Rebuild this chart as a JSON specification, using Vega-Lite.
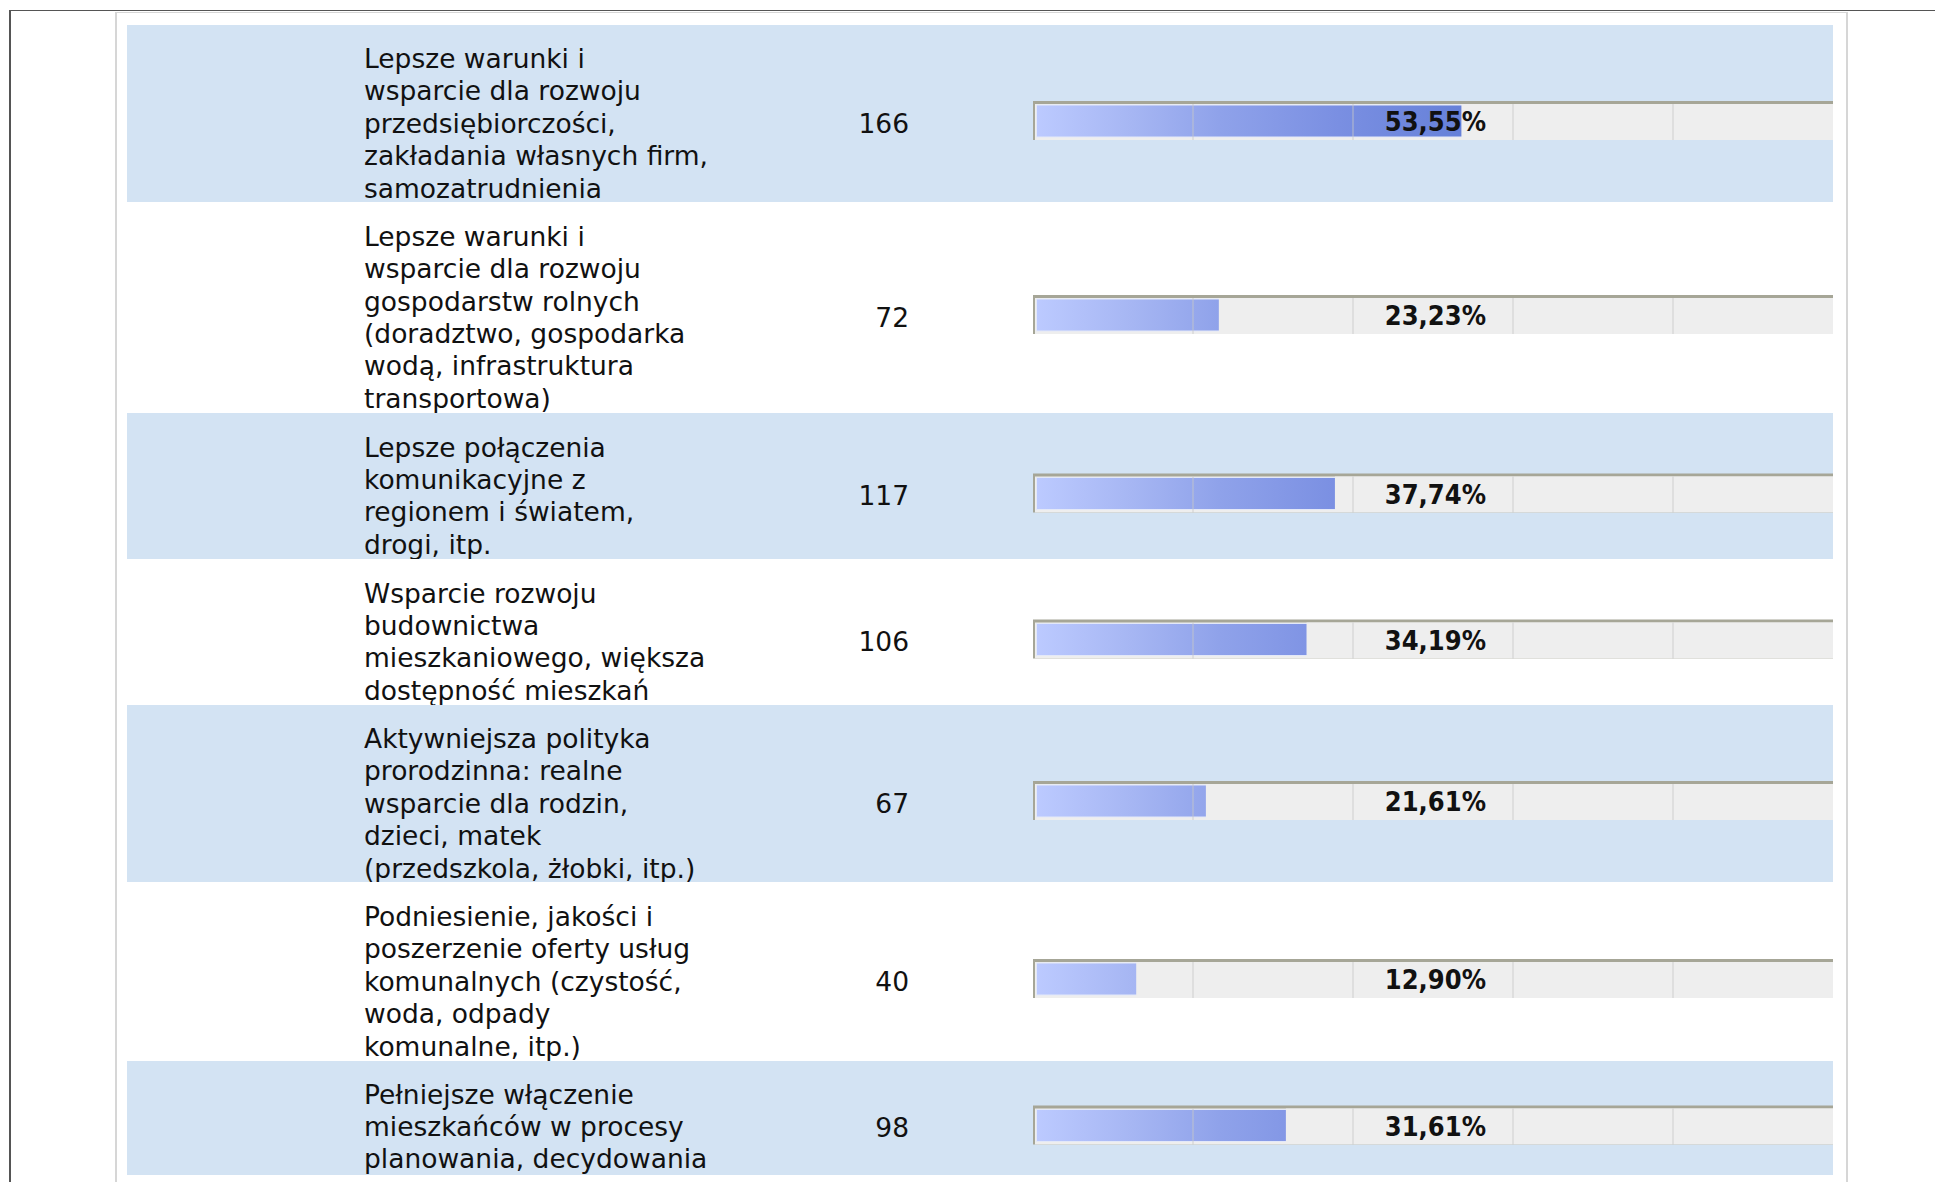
{
"$schema": "https://vega.github.io/schema/vega-lite/v6.json",
"padding": {"left": 9, "top": 10, "right": 0, "bottom": 0},
"background": "#ffffff",
"datasets": {"rows": [
 {"id":1,"label":["Lepsze warunki i","wsparcie dla rozwoju","przedsiębiorczości,","zakładania własnych firm,","samozatrudnienia"],"count":166,"pct":53.55,"pctLabel":"53,55%"},
 {"id":2,"label":["Lepsze warunki i","wsparcie dla rozwoju","gospodarstw rolnych","(doradztwo, gospodarka","wodą, infrastruktura","transportowa)"],"count":72,"pct":23.23,"pctLabel":"23,23%"},
 {"id":3,"label":["Lepsze połączenia","komunikacyjne z","regionem i światem,","drogi, itp."],"count":117,"pct":37.74,"pctLabel":"37,74%"},
 {"id":4,"label":["Wsparcie rozwoju","budownictwa","mieszkaniowego, większa","dostępność mieszkań"],"count":106,"pct":34.19,"pctLabel":"34,19%"},
 {"id":5,"label":["Aktywniejsza polityka","prorodzinna: realne","wsparcie dla rodzin,","dzieci, matek","(przedszkola, żłobki, itp.)"],"count":67,"pct":21.61,"pctLabel":"21,61%"},
 {"id":6,"label":["Podniesienie, jakości i","poszerzenie oferty usług","komunalnych (czystość,","woda, odpady","komunalne, itp.)"],"count":40,"pct":12.90,"pctLabel":"12,90%"},
 {"id":7,"label":["Pełniejsze włączenie","mieszkańców w procesy","planowania, decydowania"],"count":98,"pct":31.61,"pctLabel":"31,61%"}
]},
"data": {"name": "rows"},
"config": {"view": {"stroke": null}, "concat": {"spacing": 0}, "text": {"font": "DejaVu Sans", "fontSize": 26.5, "color": "#111111"}},
"spacing": 0,
"vconcat": [
 {"width":1926,"height":1,"view":{"fill":"#555555"},"transform":[{"filter":"false"}],"mark":"text","encoding":{}},
 {"spacing":0,"hconcat":[
  {"width":2,"height":1171,"view":{"fill":"#555555"},"transform":[{"filter":"false"}],"mark":"text","encoding":{}},
  {"width":104,"height":1,"transform":[{"filter":"false"}],"mark":"text","encoding":{}},
  {"spacing":0,"vconcat":[
   {"width":1733,"height":1,"transform":[{"filter":"false"}],"mark":"text","encoding":{}},
   {"width":1733,"height":1,"view":{"fill":"#d6d6d6"},"transform":[{"filter":"false"}],"mark":"text","encoding":{}},
   {"spacing":0,"hconcat":[
    {"width":2,"height":1169,"view":{"fill":"#d6d6d6"},"transform":[{"filter":"false"}],"mark":"text","encoding":{}},
    {"width":10,"height":1,"transform":[{"filter":"false"}],"mark":"text","encoding":{}},
    {"spacing":0,"vconcat":[
     {"width":1706,"height":12,"transform":[{"filter":"false"}],"mark":"text","encoding":{}},
     {"spacing":0,"hconcat":[
      {"width":237,"height":177,"view":{"fill":"#d3e3f3"},"transform":[{"filter":"false"}],"mark":"text","encoding":{}},
      {"width":380,"height":177,"view":{"fill":"#d3e3f3"},"transform":[{"filter":"datum.id==1"}],"mark":{"type":"text","align":"left","baseline":"middle","x":0,"dy":-53.5,"lineHeight":32.4,"clip":true},"encoding":{"text":{"field":"label","type":"nominal"}}},
      {"width":165,"height":177,"view":{"fill":"#d3e3f3"},"transform":[{"filter":"datum.id==1"}],"mark":{"type":"text","align":"right","baseline":"middle","x":"width","dy":11,"clip":true},"encoding":{"text":{"field":"count","type":"nominal"}}},
      {"width":124,"height":177,"view":{"fill":"#d3e3f3"},"transform":[{"filter":"false"}],"mark":"text","encoding":{}},
      {"width":800,"height":177,"view":{"fill":"#d3e3f3"},"layer":[
       {"transform":[{"filter":"datum.id==1"}],"mark":{"type":"bar","height":39,"yOffset":7,"color":"#a6a697"},"encoding":{"x":{"datum":0,"type":"quantitative","scale":{"domain":[0,100],"nice":false,"zero":false},"axis":null},"x2":{"datum":100}}},
       {"transform":[{"filter":"datum.id==1"}],"mark":{"type":"bar","height":36,"yOffset":8.5,"xOffset":2,"clip":true,"color":"#eeeeee"},"encoding":{"x":{"datum":0,"type":"quantitative"},"x2":{"datum":100}}},
       {"transform":[{"filter":"datum.id==1"}],"mark":{"type":"bar","height":32,"yOffset":7.5,"xOffset":3.5,"clip":true,"stroke":"#e3e8f8","strokeWidth":1,"color":{"gradient":"linear","x1":0,"y1":0,"x2":1,"y2":0,"stops":[{"offset":0,"color":"#bccaff"},{"offset":0.12,"color":"#a6b6f3"},{"offset":0.23,"color":"#8fa2ea"},{"offset":0.38,"color":"#7a8fe2"},{"offset":0.54,"color":"#6580d8"},{"offset":1,"color":"#2a48b0"}]}},"encoding":{"x":{"datum":0,"type":"quantitative"},"x2":{"datum":100}}},
       {"transform":[{"filter":"datum.id==1"}],"mark":{"type":"bar","height":34,"yOffset":7.5,"color":"#eeeeee"},"encoding":{"x":{"field":"pct","type":"quantitative"},"x2":{"datum":100}}},
       {"data":{"values":[{"g":20},{"g":40},{"g":60},{"g":80}]},"mark":{"type":"tick","orient":"vertical","size":36,"thickness":1.5,"yOffset":8.5,"color":"#c8c8c8","opacity":0.55},"encoding":{"x":{"field":"g","type":"quantitative"}}},
       {"transform":[{"filter":"datum.id==1"}],"mark":{"type":"text","align":"center","baseline":"middle","dy":9.5,"font":"DejaVu Sans Condensed, Roboto Condensed, Liberation Sans Narrow, sans-serif","fontWeight":"bold","fontSize":27,"color":"#111111","clip":true},"encoding":{"x":{"datum":50.3,"type":"quantitative"},"text":{"field":"pctLabel","type":"nominal"}}}
      ]}
     ]},
     {"spacing":0,"hconcat":[
      {"width":237,"height":211,"view":{"fill":"#ffffff"},"transform":[{"filter":"false"}],"mark":"text","encoding":{}},
      {"width":380,"height":211,"view":{"fill":"#ffffff"},"transform":[{"filter":"datum.id==2"}],"mark":{"type":"text","align":"left","baseline":"middle","x":0,"dy":-69.7,"lineHeight":32.4,"clip":true},"encoding":{"text":{"field":"label","type":"nominal"}}},
      {"width":165,"height":211,"view":{"fill":"#ffffff"},"transform":[{"filter":"datum.id==2"}],"mark":{"type":"text","align":"right","baseline":"middle","x":"width","dy":11,"clip":true},"encoding":{"text":{"field":"count","type":"nominal"}}},
      {"width":124,"height":211,"view":{"fill":"#ffffff"},"transform":[{"filter":"false"}],"mark":"text","encoding":{}},
      {"width":800,"height":211,"view":{"fill":"#ffffff"},"layer":[
       {"transform":[{"filter":"datum.id==2"}],"mark":{"type":"bar","height":39,"yOffset":7,"color":"#a6a697"},"encoding":{"x":{"datum":0,"type":"quantitative","scale":{"domain":[0,100],"nice":false,"zero":false},"axis":null},"x2":{"datum":100}}},
       {"transform":[{"filter":"datum.id==2"}],"mark":{"type":"bar","height":36,"yOffset":8.5,"xOffset":2,"clip":true,"color":"#eeeeee"},"encoding":{"x":{"datum":0,"type":"quantitative"},"x2":{"datum":100}}},
       {"transform":[{"filter":"datum.id==2"}],"mark":{"type":"bar","height":32,"yOffset":7.5,"xOffset":3.5,"clip":true,"stroke":"#e3e8f8","strokeWidth":1,"color":{"gradient":"linear","x1":0,"y1":0,"x2":1,"y2":0,"stops":[{"offset":0,"color":"#bccaff"},{"offset":0.12,"color":"#a6b6f3"},{"offset":0.23,"color":"#8fa2ea"},{"offset":0.38,"color":"#7a8fe2"},{"offset":0.54,"color":"#6580d8"},{"offset":1,"color":"#2a48b0"}]}},"encoding":{"x":{"datum":0,"type":"quantitative"},"x2":{"datum":100}}},
       {"transform":[{"filter":"datum.id==2"}],"mark":{"type":"bar","height":34,"yOffset":7.5,"color":"#eeeeee"},"encoding":{"x":{"field":"pct","type":"quantitative"},"x2":{"datum":100}}},
       {"data":{"values":[{"g":20},{"g":40},{"g":60},{"g":80}]},"mark":{"type":"tick","orient":"vertical","size":36,"thickness":1.5,"yOffset":8.5,"color":"#c8c8c8","opacity":0.55},"encoding":{"x":{"field":"g","type":"quantitative"}}},
       {"transform":[{"filter":"datum.id==2"}],"mark":{"type":"text","align":"center","baseline":"middle","dy":9.5,"font":"DejaVu Sans Condensed, Roboto Condensed, Liberation Sans Narrow, sans-serif","fontWeight":"bold","fontSize":27,"color":"#111111","clip":true},"encoding":{"x":{"datum":50.3,"type":"quantitative"},"text":{"field":"pctLabel","type":"nominal"}}}
      ]}
     ]},
     {"spacing":0,"hconcat":[
      {"width":237,"height":146,"view":{"fill":"#d3e3f3"},"transform":[{"filter":"false"}],"mark":"text","encoding":{}},
      {"width":380,"height":146,"view":{"fill":"#d3e3f3"},"transform":[{"filter":"datum.id==3"}],"mark":{"type":"text","align":"left","baseline":"middle","x":0,"dy":-37.3,"lineHeight":32.4,"clip":true},"encoding":{"text":{"field":"label","type":"nominal"}}},
      {"width":165,"height":146,"view":{"fill":"#d3e3f3"},"transform":[{"filter":"datum.id==3"}],"mark":{"type":"text","align":"right","baseline":"middle","x":"width","dy":11,"clip":true},"encoding":{"text":{"field":"count","type":"nominal"}}},
      {"width":124,"height":146,"view":{"fill":"#d3e3f3"},"transform":[{"filter":"false"}],"mark":"text","encoding":{}},
      {"width":800,"height":146,"view":{"fill":"#d3e3f3"},"layer":[
       {"transform":[{"filter":"datum.id==3"}],"mark":{"type":"bar","height":39,"yOffset":7,"color":"#a6a697"},"encoding":{"x":{"datum":0,"type":"quantitative","scale":{"domain":[0,100],"nice":false,"zero":false},"axis":null},"x2":{"datum":100}}},
       {"transform":[{"filter":"datum.id==3"}],"mark":{"type":"bar","height":36,"yOffset":8.5,"xOffset":2,"clip":true,"color":"#eeeeee"},"encoding":{"x":{"datum":0,"type":"quantitative"},"x2":{"datum":100}}},
       {"transform":[{"filter":"datum.id==3"}],"mark":{"type":"bar","height":32,"yOffset":7.5,"xOffset":3.5,"clip":true,"stroke":"#e3e8f8","strokeWidth":1,"color":{"gradient":"linear","x1":0,"y1":0,"x2":1,"y2":0,"stops":[{"offset":0,"color":"#bccaff"},{"offset":0.12,"color":"#a6b6f3"},{"offset":0.23,"color":"#8fa2ea"},{"offset":0.38,"color":"#7a8fe2"},{"offset":0.54,"color":"#6580d8"},{"offset":1,"color":"#2a48b0"}]}},"encoding":{"x":{"datum":0,"type":"quantitative"},"x2":{"datum":100}}},
       {"transform":[{"filter":"datum.id==3"}],"mark":{"type":"bar","height":34,"yOffset":7.5,"color":"#eeeeee"},"encoding":{"x":{"field":"pct","type":"quantitative"},"x2":{"datum":100}}},
       {"data":{"values":[{"g":20},{"g":40},{"g":60},{"g":80}]},"mark":{"type":"tick","orient":"vertical","size":36,"thickness":1.5,"yOffset":8.5,"color":"#c8c8c8","opacity":0.55},"encoding":{"x":{"field":"g","type":"quantitative"}}},
       {"transform":[{"filter":"datum.id==3"}],"mark":{"type":"text","align":"center","baseline":"middle","dy":9.5,"font":"DejaVu Sans Condensed, Roboto Condensed, Liberation Sans Narrow, sans-serif","fontWeight":"bold","fontSize":27,"color":"#111111","clip":true},"encoding":{"x":{"datum":50.3,"type":"quantitative"},"text":{"field":"pctLabel","type":"nominal"}}}
      ]}
     ]},
     {"spacing":0,"hconcat":[
      {"width":237,"height":146,"view":{"fill":"#ffffff"},"transform":[{"filter":"false"}],"mark":"text","encoding":{}},
      {"width":380,"height":146,"view":{"fill":"#ffffff"},"transform":[{"filter":"datum.id==4"}],"mark":{"type":"text","align":"left","baseline":"middle","x":0,"dy":-37.3,"lineHeight":32.4,"clip":true},"encoding":{"text":{"field":"label","type":"nominal"}}},
      {"width":165,"height":146,"view":{"fill":"#ffffff"},"transform":[{"filter":"datum.id==4"}],"mark":{"type":"text","align":"right","baseline":"middle","x":"width","dy":11,"clip":true},"encoding":{"text":{"field":"count","type":"nominal"}}},
      {"width":124,"height":146,"view":{"fill":"#ffffff"},"transform":[{"filter":"false"}],"mark":"text","encoding":{}},
      {"width":800,"height":146,"view":{"fill":"#ffffff"},"layer":[
       {"transform":[{"filter":"datum.id==4"}],"mark":{"type":"bar","height":39,"yOffset":7,"color":"#a6a697"},"encoding":{"x":{"datum":0,"type":"quantitative","scale":{"domain":[0,100],"nice":false,"zero":false},"axis":null},"x2":{"datum":100}}},
       {"transform":[{"filter":"datum.id==4"}],"mark":{"type":"bar","height":36,"yOffset":8.5,"xOffset":2,"clip":true,"color":"#eeeeee"},"encoding":{"x":{"datum":0,"type":"quantitative"},"x2":{"datum":100}}},
       {"transform":[{"filter":"datum.id==4"}],"mark":{"type":"bar","height":32,"yOffset":7.5,"xOffset":3.5,"clip":true,"stroke":"#e3e8f8","strokeWidth":1,"color":{"gradient":"linear","x1":0,"y1":0,"x2":1,"y2":0,"stops":[{"offset":0,"color":"#bccaff"},{"offset":0.12,"color":"#a6b6f3"},{"offset":0.23,"color":"#8fa2ea"},{"offset":0.38,"color":"#7a8fe2"},{"offset":0.54,"color":"#6580d8"},{"offset":1,"color":"#2a48b0"}]}},"encoding":{"x":{"datum":0,"type":"quantitative"},"x2":{"datum":100}}},
       {"transform":[{"filter":"datum.id==4"}],"mark":{"type":"bar","height":34,"yOffset":7.5,"color":"#eeeeee"},"encoding":{"x":{"field":"pct","type":"quantitative"},"x2":{"datum":100}}},
       {"data":{"values":[{"g":20},{"g":40},{"g":60},{"g":80}]},"mark":{"type":"tick","orient":"vertical","size":36,"thickness":1.5,"yOffset":8.5,"color":"#c8c8c8","opacity":0.55},"encoding":{"x":{"field":"g","type":"quantitative"}}},
       {"transform":[{"filter":"datum.id==4"}],"mark":{"type":"text","align":"center","baseline":"middle","dy":9.5,"font":"DejaVu Sans Condensed, Roboto Condensed, Liberation Sans Narrow, sans-serif","fontWeight":"bold","fontSize":27,"color":"#111111","clip":true},"encoding":{"x":{"datum":50.3,"type":"quantitative"},"text":{"field":"pctLabel","type":"nominal"}}}
      ]}
     ]},
     {"spacing":0,"hconcat":[
      {"width":237,"height":177,"view":{"fill":"#d3e3f3"},"transform":[{"filter":"false"}],"mark":"text","encoding":{}},
      {"width":380,"height":177,"view":{"fill":"#d3e3f3"},"transform":[{"filter":"datum.id==5"}],"mark":{"type":"text","align":"left","baseline":"middle","x":0,"dy":-53.5,"lineHeight":32.4,"clip":true},"encoding":{"text":{"field":"label","type":"nominal"}}},
      {"width":165,"height":177,"view":{"fill":"#d3e3f3"},"transform":[{"filter":"datum.id==5"}],"mark":{"type":"text","align":"right","baseline":"middle","x":"width","dy":11,"clip":true},"encoding":{"text":{"field":"count","type":"nominal"}}},
      {"width":124,"height":177,"view":{"fill":"#d3e3f3"},"transform":[{"filter":"false"}],"mark":"text","encoding":{}},
      {"width":800,"height":177,"view":{"fill":"#d3e3f3"},"layer":[
       {"transform":[{"filter":"datum.id==5"}],"mark":{"type":"bar","height":39,"yOffset":7,"color":"#a6a697"},"encoding":{"x":{"datum":0,"type":"quantitative","scale":{"domain":[0,100],"nice":false,"zero":false},"axis":null},"x2":{"datum":100}}},
       {"transform":[{"filter":"datum.id==5"}],"mark":{"type":"bar","height":36,"yOffset":8.5,"xOffset":2,"clip":true,"color":"#eeeeee"},"encoding":{"x":{"datum":0,"type":"quantitative"},"x2":{"datum":100}}},
       {"transform":[{"filter":"datum.id==5"}],"mark":{"type":"bar","height":32,"yOffset":7.5,"xOffset":3.5,"clip":true,"stroke":"#e3e8f8","strokeWidth":1,"color":{"gradient":"linear","x1":0,"y1":0,"x2":1,"y2":0,"stops":[{"offset":0,"color":"#bccaff"},{"offset":0.12,"color":"#a6b6f3"},{"offset":0.23,"color":"#8fa2ea"},{"offset":0.38,"color":"#7a8fe2"},{"offset":0.54,"color":"#6580d8"},{"offset":1,"color":"#2a48b0"}]}},"encoding":{"x":{"datum":0,"type":"quantitative"},"x2":{"datum":100}}},
       {"transform":[{"filter":"datum.id==5"}],"mark":{"type":"bar","height":34,"yOffset":7.5,"color":"#eeeeee"},"encoding":{"x":{"field":"pct","type":"quantitative"},"x2":{"datum":100}}},
       {"data":{"values":[{"g":20},{"g":40},{"g":60},{"g":80}]},"mark":{"type":"tick","orient":"vertical","size":36,"thickness":1.5,"yOffset":8.5,"color":"#c8c8c8","opacity":0.55},"encoding":{"x":{"field":"g","type":"quantitative"}}},
       {"transform":[{"filter":"datum.id==5"}],"mark":{"type":"text","align":"center","baseline":"middle","dy":9.5,"font":"DejaVu Sans Condensed, Roboto Condensed, Liberation Sans Narrow, sans-serif","fontWeight":"bold","fontSize":27,"color":"#111111","clip":true},"encoding":{"x":{"datum":50.3,"type":"quantitative"},"text":{"field":"pctLabel","type":"nominal"}}}
      ]}
     ]},
     {"spacing":0,"hconcat":[
      {"width":237,"height":179,"view":{"fill":"#ffffff"},"transform":[{"filter":"false"}],"mark":"text","encoding":{}},
      {"width":380,"height":179,"view":{"fill":"#ffffff"},"transform":[{"filter":"datum.id==6"}],"mark":{"type":"text","align":"left","baseline":"middle","x":0,"dy":-53.5,"lineHeight":32.4,"clip":true},"encoding":{"text":{"field":"label","type":"nominal"}}},
      {"width":165,"height":179,"view":{"fill":"#ffffff"},"transform":[{"filter":"datum.id==6"}],"mark":{"type":"text","align":"right","baseline":"middle","x":"width","dy":11,"clip":true},"encoding":{"text":{"field":"count","type":"nominal"}}},
      {"width":124,"height":179,"view":{"fill":"#ffffff"},"transform":[{"filter":"false"}],"mark":"text","encoding":{}},
      {"width":800,"height":179,"view":{"fill":"#ffffff"},"layer":[
       {"transform":[{"filter":"datum.id==6"}],"mark":{"type":"bar","height":39,"yOffset":7,"color":"#a6a697"},"encoding":{"x":{"datum":0,"type":"quantitative","scale":{"domain":[0,100],"nice":false,"zero":false},"axis":null},"x2":{"datum":100}}},
       {"transform":[{"filter":"datum.id==6"}],"mark":{"type":"bar","height":36,"yOffset":8.5,"xOffset":2,"clip":true,"color":"#eeeeee"},"encoding":{"x":{"datum":0,"type":"quantitative"},"x2":{"datum":100}}},
       {"transform":[{"filter":"datum.id==6"}],"mark":{"type":"bar","height":32,"yOffset":7.5,"xOffset":3.5,"clip":true,"stroke":"#e3e8f8","strokeWidth":1,"color":{"gradient":"linear","x1":0,"y1":0,"x2":1,"y2":0,"stops":[{"offset":0,"color":"#bccaff"},{"offset":0.12,"color":"#a6b6f3"},{"offset":0.23,"color":"#8fa2ea"},{"offset":0.38,"color":"#7a8fe2"},{"offset":0.54,"color":"#6580d8"},{"offset":1,"color":"#2a48b0"}]}},"encoding":{"x":{"datum":0,"type":"quantitative"},"x2":{"datum":100}}},
       {"transform":[{"filter":"datum.id==6"}],"mark":{"type":"bar","height":34,"yOffset":7.5,"color":"#eeeeee"},"encoding":{"x":{"field":"pct","type":"quantitative"},"x2":{"datum":100}}},
       {"data":{"values":[{"g":20},{"g":40},{"g":60},{"g":80}]},"mark":{"type":"tick","orient":"vertical","size":36,"thickness":1.5,"yOffset":8.5,"color":"#c8c8c8","opacity":0.55},"encoding":{"x":{"field":"g","type":"quantitative"}}},
       {"transform":[{"filter":"datum.id==6"}],"mark":{"type":"text","align":"center","baseline":"middle","dy":9.5,"font":"DejaVu Sans Condensed, Roboto Condensed, Liberation Sans Narrow, sans-serif","fontWeight":"bold","fontSize":27,"color":"#111111","clip":true},"encoding":{"x":{"datum":50.3,"type":"quantitative"},"text":{"field":"pctLabel","type":"nominal"}}}
      ]}
     ]},
     {"spacing":0,"hconcat":[
      {"width":237,"height":114,"view":{"fill":"#d3e3f3"},"transform":[{"filter":"false"}],"mark":"text","encoding":{}},
      {"width":380,"height":114,"view":{"fill":"#d3e3f3"},"transform":[{"filter":"datum.id==7"}],"mark":{"type":"text","align":"left","baseline":"middle","x":0,"dy":-22.5,"lineHeight":32.4,"clip":true},"encoding":{"text":{"field":"label","type":"nominal"}}},
      {"width":165,"height":114,"view":{"fill":"#d3e3f3"},"transform":[{"filter":"datum.id==7"}],"mark":{"type":"text","align":"right","baseline":"middle","x":"width","dy":11,"clip":true},"encoding":{"text":{"field":"count","type":"nominal"}}},
      {"width":124,"height":114,"view":{"fill":"#d3e3f3"},"transform":[{"filter":"false"}],"mark":"text","encoding":{}},
      {"width":800,"height":114,"view":{"fill":"#d3e3f3"},"layer":[
       {"transform":[{"filter":"datum.id==7"}],"mark":{"type":"bar","height":39,"yOffset":7,"color":"#a6a697"},"encoding":{"x":{"datum":0,"type":"quantitative","scale":{"domain":[0,100],"nice":false,"zero":false},"axis":null},"x2":{"datum":100}}},
       {"transform":[{"filter":"datum.id==7"}],"mark":{"type":"bar","height":36,"yOffset":8.5,"xOffset":2,"clip":true,"color":"#eeeeee"},"encoding":{"x":{"datum":0,"type":"quantitative"},"x2":{"datum":100}}},
       {"transform":[{"filter":"datum.id==7"}],"mark":{"type":"bar","height":32,"yOffset":7.5,"xOffset":3.5,"clip":true,"stroke":"#e3e8f8","strokeWidth":1,"color":{"gradient":"linear","x1":0,"y1":0,"x2":1,"y2":0,"stops":[{"offset":0,"color":"#bccaff"},{"offset":0.12,"color":"#a6b6f3"},{"offset":0.23,"color":"#8fa2ea"},{"offset":0.38,"color":"#7a8fe2"},{"offset":0.54,"color":"#6580d8"},{"offset":1,"color":"#2a48b0"}]}},"encoding":{"x":{"datum":0,"type":"quantitative"},"x2":{"datum":100}}},
       {"transform":[{"filter":"datum.id==7"}],"mark":{"type":"bar","height":34,"yOffset":7.5,"color":"#eeeeee"},"encoding":{"x":{"field":"pct","type":"quantitative"},"x2":{"datum":100}}},
       {"data":{"values":[{"g":20},{"g":40},{"g":60},{"g":80}]},"mark":{"type":"tick","orient":"vertical","size":36,"thickness":1.5,"yOffset":8.5,"color":"#c8c8c8","opacity":0.55},"encoding":{"x":{"field":"g","type":"quantitative"}}},
       {"transform":[{"filter":"datum.id==7"}],"mark":{"type":"text","align":"center","baseline":"middle","dy":9.5,"font":"DejaVu Sans Condensed, Roboto Condensed, Liberation Sans Narrow, sans-serif","fontWeight":"bold","fontSize":27,"color":"#111111","clip":true},"encoding":{"x":{"datum":50.3,"type":"quantitative"},"text":{"field":"pctLabel","type":"nominal"}}}
      ]}
     ]}
    ]},
    {"width":13,"height":1,"transform":[{"filter":"false"}],"mark":"text","encoding":{}},
    {"width":2,"height":1169,"view":{"fill":"#d6d6d6"},"transform":[{"filter":"false"}],"mark":"text","encoding":{}}
   ]}
  ]}
 ]}
]
}
